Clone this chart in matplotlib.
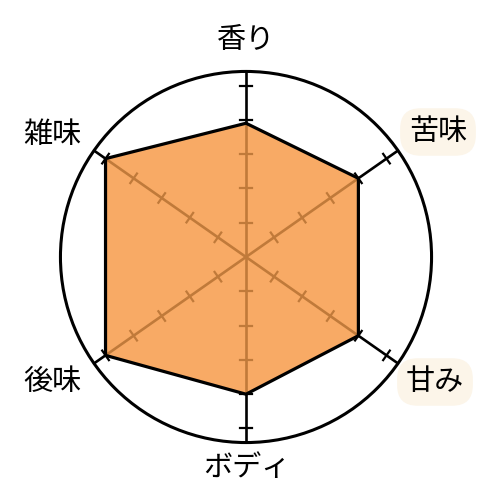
import numpy as np
import matplotlib
matplotlib.use("Agg")
import matplotlib.pyplot as plt
from matplotlib.patches import Circle, Polygon

plt.rcParams['font.family'] = ['Noto Sans CJK JP', 'DejaVu Sans']

categories = ["香り", "苦味", "甘み", "ボディ", "後味", "雑味"]
values = [3.9, 4, 4, 4, 5, 5]
angles_deg = [90, 35, -35, -90, -145, 145]
tick_levels = [1, 2, 3, 4, 5]
highlighted = ["苦味", "甘み"]
max_r = 5.41

fig = plt.figure(figsize=(5, 5), dpi=100)
ax = fig.add_axes([0, 0, 1, 1])
ax.set_xlim(-7.172, 7.405)
ax.set_ylim(-7.085, 7.493)
ax.set_aspect('equal')
ax.axis('off')

ang = np.deg2rad(angles_deg)
ux, uy = np.cos(ang), np.sin(ang)

# outer circle
ax.add_patch(Circle((0, 0), max_r, fill=False, ec='black', lw=2.2, zorder=1))

def draw_axes(color, zorder, clip=None):
    arts = []
    tl = 0.17
    for i in range(len(categories)):
        arts += ax.plot([0, max_r * ux[i]], [0, max_r * uy[i]], color=color, lw=1.9,
                        zorder=zorder, solid_capstyle='butt')
        px, py = -uy[i], ux[i]
        for t in tick_levels:
            cx, cy = t * ux[i], t * uy[i]
            arts += ax.plot([cx - tl * px, cx + tl * px], [cy - tl * py, cy + tl * py],
                            color=color, lw=1.6, zorder=zorder)
    if clip is not None:
        for a in arts:
            a.set_clip_path(clip)
    return arts

draw_axes('black', 1)

pts = np.column_stack([np.array(values) * ux, np.array(values) * uy])
fill = Polygon(pts, closed=True, fc='#F8AA65', ec='none', zorder=2)
ax.add_patch(fill)
clip_poly = Polygon(pts, closed=True, fc='none', ec='none', transform=ax.transData)
ax.add_patch(clip_poly)
draw_axes('#C07A3A', 3, clip=clip_poly)
ax.add_patch(Polygon(pts, closed=True, fill=False, ec='black', lw=2.3, zorder=4, joinstyle='miter'))

# labels (pixel positions converted through the axes transform)
label_px = {"香り": (246, 40), "苦味": (438, 132), "甘み": (435, 382),
            "ボディ": (247, 468), "後味": (52, 382), "雑味": (52, 135)}
inv = ax.transData.inverted()
for name in categories:
    x, y = label_px[name]
    dx, dy = inv.transform((x, 500 - y))
    kw = {}
    if name in highlighted:
        kw['bbox'] = dict(boxstyle='round,pad=0.3,rounding_size=0.7', fc='#FCF5E9', ec='none')
    ax.text(dx, dy, name, ha='center', va='center', fontsize=21, color='black', zorder=5, **kw)

fig.savefig('out.png', dpi=100, facecolor='white')
